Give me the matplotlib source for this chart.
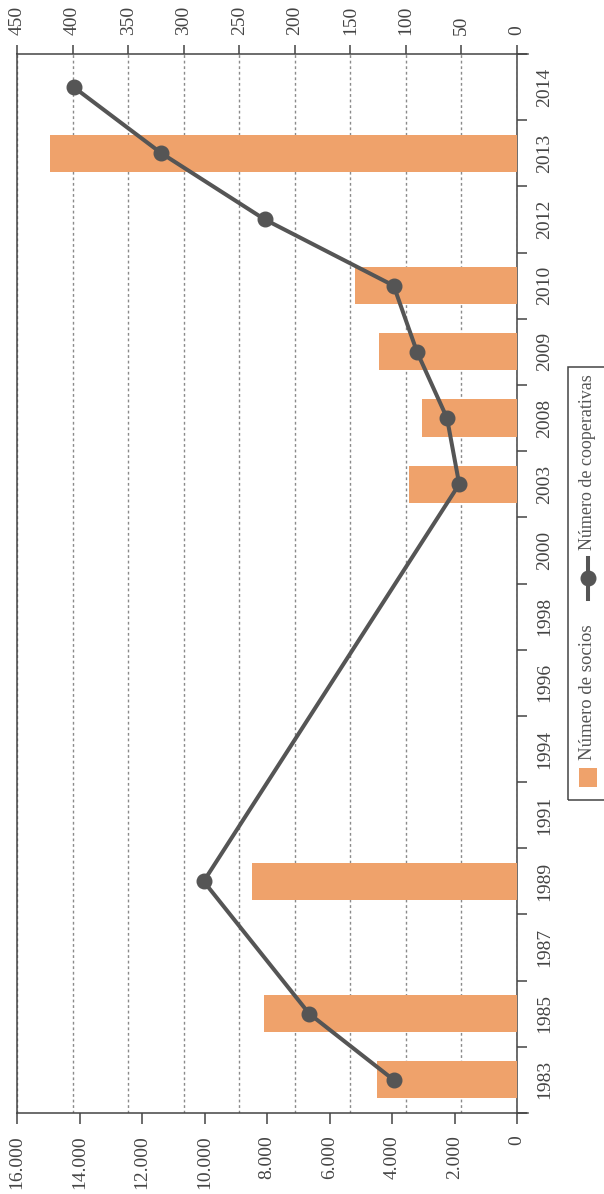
import matplotlib.pyplot as plt
import numpy as np
from matplotlib.patches import Rectangle
from matplotlib.lines import Line2D
from matplotlib.ticker import FuncFormatter, FixedLocator

plt.rcParams['font.family'] = ['Liberation Serif', 'DejaVu Serif']

years = ["1983", "1985", "1987", "1989", "1991", "1994", "1996", "1998",
         "2000", "2003", "2008", "2009", "2010", "2012", "2013", "2014"]
socios = [4480, 8100, np.nan, 8480, np.nan, np.nan, np.nan, np.nan,
          np.nan, 3460, 3040, 4420, 5180, np.nan, 14940, np.nan]
cooperativas = [111, 187, np.nan, 282, np.nan, np.nan, np.nan, np.nan,
                np.nan, 52, 63, 90, 111, 227, 320, 399]

bar_color = '#EFA26B'
line_color = '#555555'
axis_color = '#444444'
text_color = '#444444'
fs = 14

pos = np.arange(len(years))
socios = np.array(socios)
cooperativas = np.array(cooperativas)

fig = plt.figure(figsize=(6.04, 11.94), dpi=100)
ax = fig.add_axes([17/604, 81/1194, 500/604, 1059/1194])
ax_b = ax.twiny()
ax_l = ax.twiny()

# main axes: number of cooperatives scale (top), grid, year axis on the right
ax.set_xlim(450, 0)
ax.set_ylim(-0.5, len(years) - 0.5)
ax.xaxis.tick_top()
ax.set_xticks(np.arange(0, 451, 50))
ax.grid(axis='x', linestyle=(0, (2, 2)), color='#8a8a8a', lw=1)
ax.set_axisbelow(True)
ax.tick_params(axis='x', which='major', top=True, bottom=False, labeltop=True,
               labelbottom=False, direction='out', length=6.5, width=1.1,
               color=axis_color, pad=7, labelsize=fs, labelcolor=text_color,
               labelrotation=90)

ax.yaxis.set_major_locator(FixedLocator(np.arange(len(years) + 1) - 0.5))
ax.yaxis.set_minor_locator(FixedLocator(pos))
ax.set_yticklabels([], minor=False)
ax.set_yticklabels(years, minor=True)
ax.tick_params(axis='y', which='major', left=False, right=True, labelleft=False,
               labelright=False, direction='out', length=7, width=1.1,
               color=axis_color)
ax.tick_params(axis='y', which='minor', left=False, right=True, labelleft=False,
               labelright=True, length=0, pad=14, labelsize=fs,
               labelcolor=text_color, labelrotation=90)
for lab in ax.get_yticklabels(minor=True):
    lab.set_va('center')

for s in ax.spines.values():
    s.set_color(axis_color)
    s.set_linewidth(1.1)
ax.spines['top'].set_bounds(-10, 450)
ax.spines['bottom'].set_bounds(-10, 450)

# bars: number of members
ax_b.set_xlim(16000, 0)
ax_b.barh(pos, socios, height=0.56, color=bar_color, zorder=2)
ax_b.xaxis.set_ticks_position('bottom')
ax_b.set_xticks(np.arange(0, 16001, 2000))
ax_b.xaxis.set_major_formatter(FuncFormatter(lambda v, p: f"{int(v):,}".replace(",", ".")))
ax_b.tick_params(axis='x', bottom=True, top=False, labelbottom=True, labeltop=False,
                 direction='out', length=8, width=1.1, color=axis_color, pad=8,
                 labelsize=fs, labelcolor=text_color, labelrotation=90)
for s in ax_b.spines.values():
    s.set_visible(False)

# line: number of cooperatives
ax_l.set_xlim(450, 0)
ok = ~np.isnan(cooperativas)
ax_l.plot(cooperativas[ok], pos[ok], color=line_color, lw=2.9, marker='o',
          ms=10.5, zorder=3)
ax_l.set_xticks([])
ax_l.tick_params(top=False, bottom=False, labeltop=False, labelbottom=False)
for s in ax_l.spines.values():
    s.set_visible(False)

# legend (rotated with the chart)
W, H = 604, 1194
fig.add_artist(Rectangle((568/W, 1 - 800/H), 60/W, 433/H, transform=fig.transFigure,
                         fill=False, edgecolor=axis_color, lw=1.1, clip_on=False))
fig.add_artist(Rectangle((579/W, 1 - 787/H), 18/W, 19/H, transform=fig.transFigure,
                         facecolor=bar_color, edgecolor='none'))
fig.text(588/W, 1 - 760/H, "Número de socios", rotation=90, ha='center',
         va='bottom', fontsize=13.5, color='#555555')
fig.add_artist(Line2D([588/W, 588/W], [1 - 599/H, 1 - 558/H], transform=fig.transFigure,
                      color=line_color, lw=2.9))
fig.add_artist(Line2D([588/W], [1 - 578/H], transform=fig.transFigure, color=line_color,
                      marker='o', ms=10.5))
fig.text(588/W, 1 - 550/H, "Número de cooperativas", rotation=90, ha='center',
         va='bottom', fontsize=13, color='#555555')

fig.savefig('out.png', dpi=100)
